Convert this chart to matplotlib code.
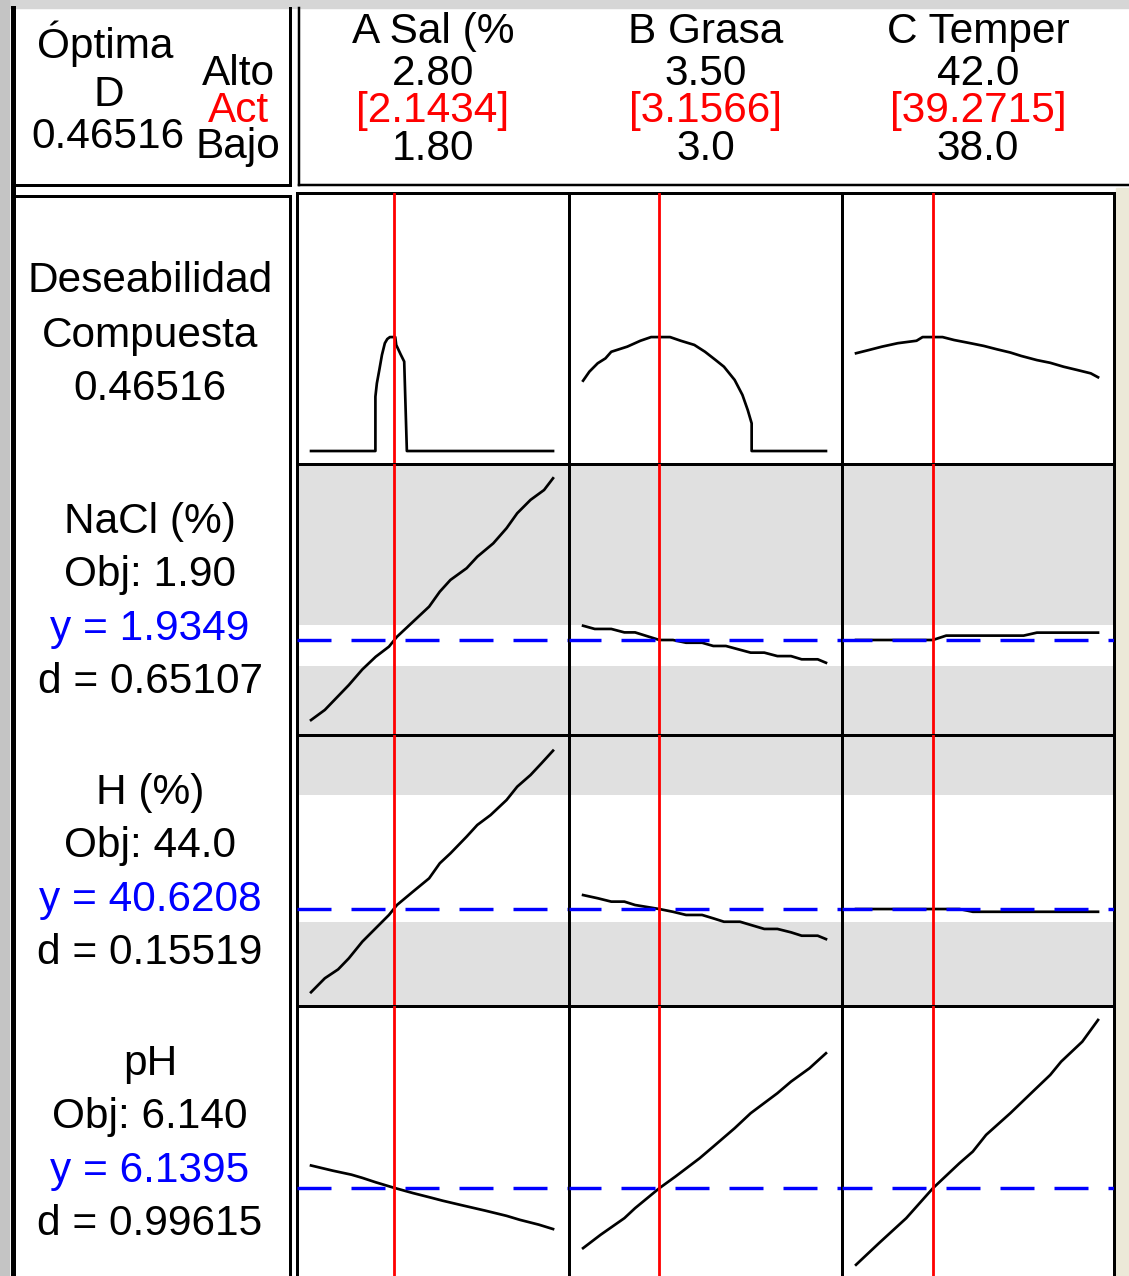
import matplotlib
matplotlib.use('Agg')
import matplotlib.pyplot as plt
from matplotlib.patches import Rectangle
from matplotlib.lines import Line2D

plt.rcParams['font.family'] = ['Liberation Sans', 'DejaVu Sans']

# factors
factor_names = ['A Sal (%', 'B Grasa', 'C Temper']
factor_low = [1.80, 3.0, 38.0]
factor_high = [2.80, 3.50, 42.0]
factor_cur = [2.1434, 3.1566, 39.2715]
high_labels = ['2.80', '3.50', '42.0']
low_labels = ['1.80', '3.0', '38.0']
cur_labels = ['[2.1434]', '[3.1566]', '[39.2715]']

composite_d = '0.46516'

# responses
resp_names = ['NaCl (%)', 'H (%)', 'pH']
resp_obj = ['1.90', '44.0', '6.140']
resp_pred = [1.9349, 40.6208, 6.1395]
resp_pred_labels = ['1.9349', '40.6208', '6.1395']
resp_d = ['0.65107', '0.15519', '0.99615']
resp_lower = [1.82, 40.0, 6.0]
resp_upper = [2.0, 46.0, 6.4]
resp_ylim = [(1.522, 2.700), (36.04, 48.84), (6.028, 6.367)]

# composite desirability curves
d_sal_x = [1.80, 2.066, 2.066, 2.072, 2.082, 2.093, 2.105, 2.115, 2.126, 2.148, 2.152, 2.170, 2.185, 2.196, 2.80]
d_sal_y = [0, 0, 0.222, 0.276, 0.330, 0.392, 0.440, 0.457, 0.465, 0.465, 0.433, 0.395, 0.365, 0, 0]
d_grasa_x = [3.000, 3.013, 3.030, 3.046, 3.058, 3.091, 3.118, 3.140, 3.179, 3.201, 3.229, 3.251, 3.273,
             3.290, 3.312, 3.328, 3.339, 3.347, 3.347, 3.500]
d_grasa_y = [0.287, 0.324, 0.358, 0.378, 0.405, 0.426, 0.450, 0.465, 0.465, 0.450, 0.433, 0.405, 0.371,
             0.344, 0.290, 0.229, 0.167, 0.113, 0.0, 0.0]
d_temp_x = [38.0, 38.21, 38.43, 38.69, 39.00, 39.10, 39.43, 39.62, 39.89, 40.11, 40.33, 40.55, 40.73,
            40.99, 41.21, 41.43, 41.65, 41.88, 42.0]
d_temp_y = [0.399, 0.412, 0.426, 0.440, 0.450, 0.465, 0.465, 0.453, 0.440, 0.429, 0.415, 0.402, 0.388,
            0.371, 0.360, 0.344, 0.331, 0.317, 0.301]

# NaCl
nacl_sal_x = [1.80, 1.857, 1.956, 2.012, 2.067, 2.122, 2.155, 2.221, 2.288, 2.332, 2.376, 2.443, 2.487,
              2.553, 2.608, 2.652, 2.707, 2.763, 2.80]
nacl_sal_y = [1.587, 1.631, 1.739, 1.807, 1.862, 1.906, 1.949, 2.014, 2.080, 2.145, 2.196, 2.247, 2.297,
              2.355, 2.421, 2.486, 2.544, 2.587, 2.638]
nacl_grasa_x = [3.000, 3.024, 3.058, 3.085, 3.107, 3.157, 3.185, 3.212, 3.245, 3.268, 3.294, 3.345, 3.373,
                3.400, 3.428, 3.450, 3.483, 3.500]
nacl_grasa_y = [1.997, 1.983, 1.983, 1.968, 1.968, 1.935, 1.935, 1.923, 1.923, 1.909, 1.909, 1.880, 1.880,
                1.865, 1.865, 1.851, 1.851, 1.836]
nacl_temp_x = [38.0, 39.27, 39.49, 40.77, 40.99, 42.0]
nacl_temp_y = [1.935, 1.935, 1.954, 1.954, 1.967, 1.967]

# H
h_sal_x = [1.80, 1.857, 1.912, 1.956, 2.012, 2.067, 2.122, 2.155, 2.221, 2.288, 2.332, 2.376, 2.443, 2.487,
           2.542, 2.608, 2.652, 2.707, 2.752, 2.80]
h_sal_y = [36.69, 37.35, 37.77, 38.29, 39.08, 39.71, 40.34, 40.81, 41.44, 42.07, 42.78, 43.25, 44.04, 44.59,
           45.06, 45.77, 46.40, 46.95, 47.50, 48.10]
h_grasa_x = [3.000, 3.030, 3.058, 3.085, 3.107, 3.157, 3.185, 3.212, 3.245, 3.268, 3.290, 3.323, 3.345,
             3.373, 3.400, 3.428, 3.450, 3.483, 3.500]
h_grasa_y = [41.28, 41.13, 40.97, 40.97, 40.81, 40.62, 40.49, 40.34, 40.34, 40.18, 40.02, 40.02, 39.87,
             39.68, 39.68, 39.52, 39.36, 39.36, 39.20]
h_temp_x = [38.0, 39.71, 39.93, 42.0]
h_temp_y = [40.62, 40.62, 40.49, 40.49]

# pH
ph_sal_x = [1.80, 1.890, 1.967, 2.012, 2.067, 2.144, 2.221, 2.299, 2.343, 2.420, 2.520, 2.608, 2.663, 2.741, 2.80]
ph_sal_y = [6.1675, 6.1610, 6.1560, 6.1520, 6.1465, 6.1395, 6.1330, 6.1270, 6.1235, 6.1180, 6.1110, 6.1045,
            6.0995, 6.0935, 6.0880]
ph_grasa_x = [3.000, 3.036, 3.085, 3.107, 3.157, 3.190, 3.240, 3.268, 3.312, 3.345, 3.400, 3.428, 3.466, 3.500]
ph_grasa_y = [6.0641, 6.0808, 6.1016, 6.1141, 6.1391, 6.1536, 6.1766, 6.1911, 6.2141, 6.2329, 6.2579, 6.2724,
              6.2891, 6.3079]
ph_temp_x = [38.0, 38.38, 38.83, 39.27, 39.71, 39.93, 40.15, 40.55, 40.95, 41.21, 41.39, 41.74, 42.0]
ph_temp_y = [6.0433, 6.0704, 6.1016, 6.1390, 6.1704, 6.1849, 6.2058, 6.2329, 6.2620, 6.2808, 6.2974, 6.3224,
             6.3495]

curves = [
    [(d_sal_x, d_sal_y), (d_grasa_x, d_grasa_y), (d_temp_x, d_temp_y)],
    [(nacl_sal_x, nacl_sal_y), (nacl_grasa_x, nacl_grasa_y), (nacl_temp_x, nacl_temp_y)],
    [(h_sal_x, h_sal_y), (h_grasa_x, h_grasa_y), (h_temp_x, h_temp_y)],
    [(ph_sal_x, ph_sal_y), (ph_grasa_x, ph_grasa_y), (ph_temp_x, ph_temp_y)],
]

W, H = 1129, 1276
fig = plt.figure(figsize=(W / 100, H / 100), dpi=100)
PX = 0.72  # points per pixel at dpi 100
FS = 30.5


def fx(x):
    return x / W


def fy(y):
    return 1 - y / H


def rect(x0, y0, x1, y1):
    return [x0 / W, 1 - y1 / H, (x1 - x0) / W, (y1 - y0) / H]


def frame(x0, y0, x1, y1, lw=3, top=True, right=True):
    ax = fig.add_axes(rect(x0, y0, x1, y1))
    ax.set_xticks([])
    ax.set_yticks([])
    for s in ax.spines.values():
        s.set_linewidth(lw * PX)
    ax.spines['top'].set_visible(top)
    ax.spines['right'].set_visible(right)
    ax.patch.set_alpha(0)
    return ax


# window background bits
fig.add_artist(Rectangle((0, fy(8)), 1, 8 / H, transform=fig.transFigure, color='#d6d6d6', zorder=0))
fig.add_artist(Rectangle((0, 0), fx(9), 1, transform=fig.transFigure, color='#c4c4c4', zorder=0))
fig.add_artist(Rectangle((fx(1116), 0), 1, fy(188), transform=fig.transFigure, color='#ece9d8', zorder=0))

# boxes
frame(12.5, 8, 290, 185, top=False)
frame(299, 8, 1140, 185, lw=2.5, top=False, right=False)
frame(12.5, 196, 290, 1290)
fig.add_artist(Line2D([fx(12.5), fx(12.5)], [0, fy(8)], transform=fig.transFigure, color='black', lw=5 * PX))

# header texts
fig.text(fx(105), fy(58), 'Óptima', ha='center', va='baseline', fontsize=FS)
fig.text(fx(109), fy(106), 'D', ha='center', va='baseline', fontsize=FS)
fig.text(fx(108), fy(148), composite_d, ha='center', va='baseline', fontsize=FS)
fig.text(fx(238), fy(85), 'Alto', ha='center', va='baseline', fontsize=FS)
fig.text(fx(238), fy(122), 'Act', ha='center', va='baseline', fontsize=FS, color='#ff0000')
fig.text(fx(238), fy(158), 'Bajo', ha='center', va='baseline', fontsize=FS)

cols = [297, 569, 842, 1114]
rows = [193, 464, 735, 1006, 1277]

for c in range(3):
    cx = (cols[c] + cols[c + 1]) / 2
    fig.text(fx(cx), fy(43), factor_names[c], ha='center', va='baseline', fontsize=FS)
    fig.text(fx(cx), fy(85), high_labels[c], ha='center', va='baseline', fontsize=FS)
    fig.text(fx(cx), fy(122), cur_labels[c], ha='center', va='baseline', fontsize=FS, color='#ff0000')
    fig.text(fx(cx), fy(160), low_labels[c], ha='center', va='baseline', fontsize=FS)

# row labels
for i, s in enumerate(['Deseabilidad', 'Compuesta', composite_d]):
    fig.text(fx(150), fy([292, 347, 400][i]), s, ha='center', va='baseline', fontsize=FS)

for r in range(3):
    b = [533, 804, 1075][r]
    lines = [resp_names[r], 'Obj: ' + resp_obj[r], 'y = ' + resp_pred_labels[r], 'd = ' + resp_d[r]]
    colors = ['black', 'black', '#0000ff', 'black']
    for k in range(4):
        fig.text(fx(150), fy(b + [0, 53, 107, 160][k]), lines[k], ha='center', va='baseline',
                 fontsize=FS, color=colors[k])

# panels
dash_lw = 3.4 * PX
dash_on, dash_off = 34 * PX / dash_lw, 20 * PX / dash_lw
for r in range(4):
    for c in range(3):
        ax = fig.add_axes(rect(cols[c], rows[r], cols[c + 1], rows[r + 1]))
        lo, hi = factor_low[c], factor_high[c]
        span = hi - lo
        ax.set_xlim(lo - 0.058 * span, hi + 0.066 * span)
        ax.set_xticks([])
        ax.set_yticks([])
        for s in ax.spines.values():
            s.set_linewidth(3 * PX)
        if r == 0:
            ax.set_ylim(-0.053, 1.053)
        else:
            ax.set_ylim(*resp_ylim[r - 1])
            ax.set_facecolor('#e0e0e0')
            ax.axhspan(resp_lower[r - 1], resp_upper[r - 1], color='white', lw=0, zorder=0)
        x, y = curves[r][c]
        ax.plot(x, y, color='black', lw=2.7 * PX, zorder=2)
        if r > 0:
            off = (c * (cols[1] - cols[0]) * PX / dash_lw) % (dash_on + dash_off)
            ax.axhline(resp_pred[r - 1], color='#0000ff', lw=dash_lw, ls=(off, (dash_on, dash_off)), zorder=3)
        ax.axvline(factor_cur[c], color='#ff0000', lw=2.8 * PX, zorder=4)

fig.savefig('out.png', dpi=100)
